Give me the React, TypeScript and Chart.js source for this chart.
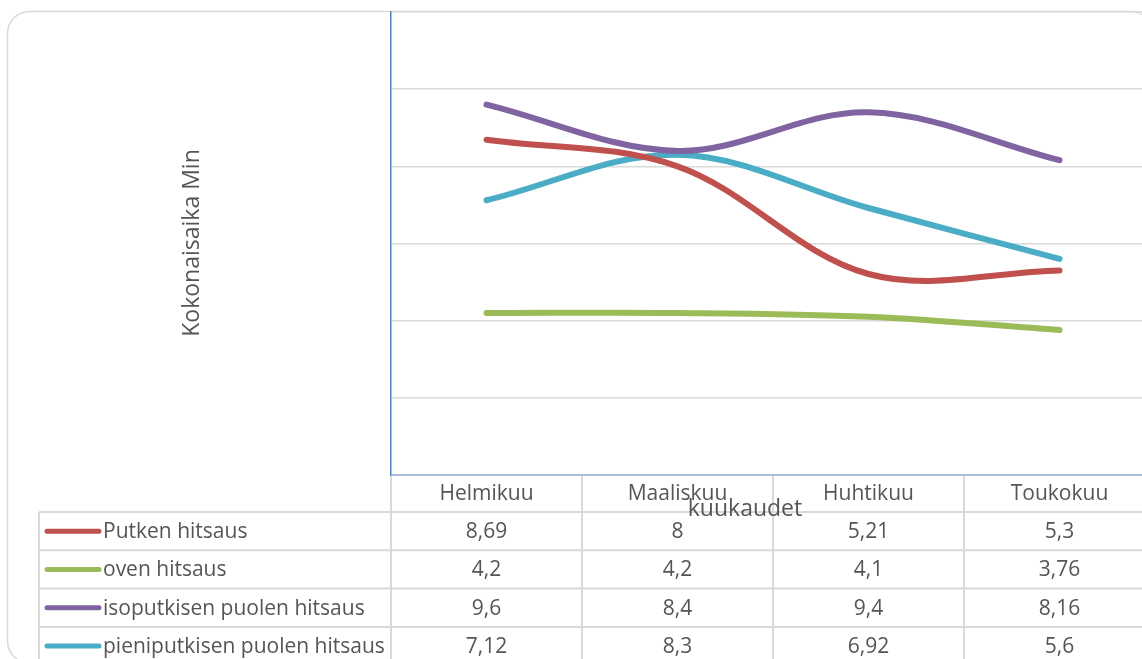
import React, { useEffect, useRef } from "react";
import { Chart, registerables } from "chart.js";

Chart.register(...registerables);

const months = ["Helmikuu", "Maaliskuu", "Huhtikuu", "Toukokuu"];
const seriesNames = [
  "Putken hitsaus",
  "oven hitsaus",
  "isoputkisen puolen hitsaus",
  "pieniputkisen puolen hitsaus",
];
const putkenHitsaus = [8.69, 8, 5.21, 5.3];
const ovenHitsaus = [4.2, 4.2, 4.1, 3.76];
const isoputkisenHitsaus = [9.6, 8.4, 9.4, 8.16];
const pieniputkisenHitsaus = [7.12, 8.3, 6.92, 5.6];
const seriesColors = ["#C0504D", "#9BBB59", "#8064A2", "#4BACC6"];
const yAxisTitle = "Kokonaisaika Min";
const xAxisTitle = "kuukaudet";

const FONT = '"Open Sans", sans-serif';
const TEXT = "#555555";
const LINE = "#D9D9D9";

function fmt(v: number) {
  return String(v).replace(".", ",");
}

const tablePlugin = {
  id: "excelTable",
  beforeDraw(chart: any) {
    const ctx = chart.ctx;
    ctx.save();
    ctx.strokeStyle = LINE;
    ctx.lineWidth = 1.5;
    const x0 = 7.5, y0 = 11.5, x1 = 1153, y1 = 663, r = 22;
    ctx.beginPath();
    ctx.moveTo(x0 + r, y0);
    ctx.lineTo(x1 - r, y0);
    ctx.arcTo(x1, y0, x1, y0 + r, r);
    ctx.lineTo(x1, y1 - r);
    ctx.arcTo(x1, y1, x1 - r, y1, r);
    ctx.lineTo(x0 + r, y1);
    ctx.arcTo(x0, y1, x0, y1 - r, r);
    ctx.lineTo(x0, y0 + r);
    ctx.arcTo(x0, y0, x0 + r, y0, r);
    ctx.stroke();
    ctx.restore();
  },
  afterDraw(chart: any) {
    const ctx = chart.ctx;
    const xs = chart.scales.x;
    const area = chart.chartArea;
    const n = months.length;
    const colW = (area.right - area.left) / n;
    const top = area.bottom;
    const headH = 37;
    const rowH = 38.3;
    const legendLeft = 39;
    const datasets = chart.data.datasets;
    ctx.save();
    ctx.strokeStyle = LINE;
    ctx.lineWidth = 2;
    const tableBottom = top + headH + rowH * datasets.length;
    ctx.beginPath();
    for (let r = 0; r <= datasets.length; r++) {
      const y = top + headH + r * rowH;
      ctx.moveTo(legendLeft, y);
      ctx.lineTo(area.right + 20, y);
    }
    ctx.moveTo(legendLeft, top + headH);
    ctx.lineTo(legendLeft, tableBottom);
    for (let i = 1; i <= n; i++) {
      const x = area.left + i * colW;
      ctx.moveTo(x, top + 1);
      ctx.lineTo(x, tableBottom);
    }
    ctx.moveTo(area.left, top + 1);
    ctx.lineTo(area.left, tableBottom);
    ctx.stroke();

    ctx.fillStyle = TEXT;
    ctx.font = `21px ${FONT}`;
    ctx.textBaseline = "middle";
    ctx.textAlign = "center";
    months.forEach((m, i) => {
      ctx.fillText(m, xs.getPixelForValue(i), top + headH / 2 + 1);
    });
    datasets.forEach((ds: any, r: number) => {
      const cy = top + headH + r * rowH + rowH / 2 + 1;
      ctx.textAlign = "center";
      ds.data.forEach((v: number, i: number) => {
        ctx.fillText(fmt(v), xs.getPixelForValue(i), cy);
      });
      ctx.strokeStyle = ds.borderColor;
      ctx.lineWidth = 5;
      ctx.lineCap = "round";
      ctx.beginPath();
      ctx.moveTo(47, cy - 1);
      ctx.lineTo(99, cy - 1);
      ctx.stroke();
      ctx.textAlign = "left";
      ctx.fillText(ds.label, 103, cy);
    });

    ctx.font = `23px ${FONT}`;
    ctx.textAlign = "center";
    ctx.fillText(xAxisTitle, 745, 509);
    ctx.translate(192, 243);
    ctx.rotate(-Math.PI / 2);
    ctx.fillText(yAxisTitle, 0, 0);
    ctx.restore();
  },
};

export default function App() {
  const ref = useRef<HTMLCanvasElement>(null);
  useEffect(() => {
    const canvas = ref.current!;
    const values = [putkenHitsaus, ovenHitsaus, isoputkisenHitsaus, pieniputkisenHitsaus];
    const chart = new Chart(canvas, {
      type: "line",
      data: {
        labels: months,
        datasets: seriesNames.map((name, i) => ({
          label: name,
          data: values[i],
          borderColor: seriesColors[i],
          backgroundColor: seriesColors[i],
          borderWidth: 6,
          borderCapStyle: "round" as const,
          pointRadius: 0,
          tension: 0.35,
          fill: false,
        })),
      },
      options: {
        responsive: false,
        animation: false,
        devicePixelRatio: 1,
        layout: { padding: { left: 391, top: 12, right: 15, bottom: 205 } },
        plugins: { legend: { display: false }, tooltip: { enabled: false } },
        scales: {
          x: {
            type: "category",
            offset: true,
            grid: { display: false, drawTicks: false },
            ticks: { display: false },
            border: { display: true, color: "#A9BCD9", width: 2 },
          },
          y: {
            min: 0,
            max: 12,
            ticks: { display: false, stepSize: 2 },
            grid: { color: LINE, lineWidth: 1.5, drawTicks: false },
            border: { display: true, color: "#4F81BD", width: 1.5 },
          },
        },
      },
      plugins: [tablePlugin],
    });
    return () => chart.destroy();
  }, []);
  return (
    <div style={{ position: "absolute", left: 0, top: 0, width: 1142, height: 659, overflow: "hidden", background: "#fff" }}>
      <canvas ref={ref} width={1170} height={680} style={{ display: "block" }} />
    </div>
  );
}
